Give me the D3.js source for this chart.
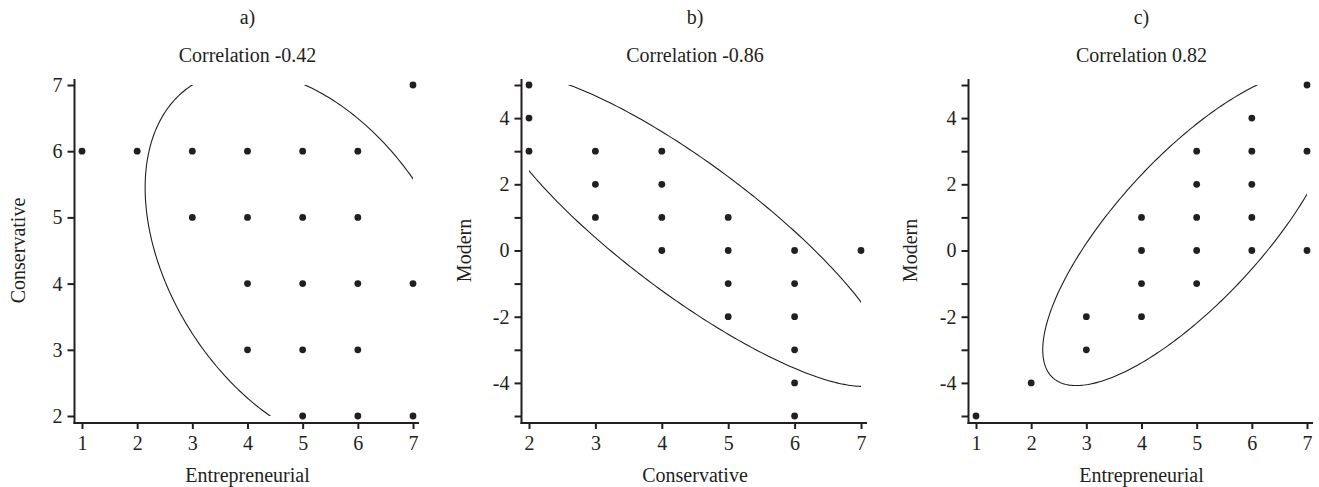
<!DOCTYPE html>
<html>
<head>
<meta charset="utf-8">
<script src="https://cdn.jsdelivr.net/npm/d3@7"></script>
<style>
  html, body { margin: 0; padding: 0; background: #fff; }
  svg { display: block; }
  text { font-family: "Liberation Serif", "Times New Roman", serif; fill: #231f20; }
</style>
</head>
<body>
<svg id="chart" width="1319" height="487"></svg>
<script>
// ---------------- DATA ----------------
const panelLetters = ["a)", "b)", "c)"];
const panelTitles  = ["Correlation -0.42", "Correlation -0.86", "Correlation 0.82"];
const xAxisTitles  = ["Entrepreneurial", "Conservative", "Entrepreneurial"];
const yAxisTitles  = ["Conservative", "Modern", "Modern"];

// panel a: Entrepreneurial (x) vs Conservative (y)
const aX = [1, 2, 3, 4, 5, 6, 7,  3, 4, 5, 6,  4, 5, 6, 7,  4, 5, 6,  5, 6, 7];
const aY = [6, 6, 6, 6, 6, 6, 7,  5, 5, 5, 5,  4, 4, 4, 4,  3, 3, 3,  2, 2, 2];
// panel b: Conservative (x) vs Modern (y)
const bX = [2, 2, 2,  3, 3, 3,  4, 4, 4, 4,  5, 5, 5, 5,  6, 6, 6, 6, 6, 6,  7];
const bY = [5, 4, 3,  3, 2, 1,  3, 2, 1, 0,  1, 0, -1, -2,  0, -1, -2, -3, -4, -5,  0];
// panel c: Entrepreneurial (x) vs Modern (y)
const cX = [1, 2, 3, 3,  4, 4, 4, 4,  5, 5, 5, 5, 5,  6, 6, 6, 6, 6,  7, 7, 7];
const cY = [-5, -4, -2, -3,  1, 0, -1, -2,  3, 2, 1, 0, -1,  4, 3, 2, 1, 0,  5, 3, 0];

// tick values / labels
const xTicksA = [1, 2, 3, 4, 5, 6, 7];
const yTicksA = [2, 3, 4, 5, 6, 7];
const yTickLabelsA = [2, 3, 4, 5, 6, 7];
const xTicksB = [2, 3, 4, 5, 6, 7];
const yTicksB = [-5, -4, -3, -2, -1, 0, 1, 2, 3, 4, 5];
const yTickLabelsB = [-4, -2, 0, 2, 4];
const xTicksC = [1, 2, 3, 4, 5, 6, 7];
const yTicksC = [-5, -4, -3, -2, -1, 0, 1, 2, 3, 4, 5];
const yTickLabelsC = [-4, -2, 0, 2, 4];

// ellipse: centre [x, y] and covariance [varX, covXY, varY] (data units)
const ellipseCentres = [[5.06, 4.34], [4.42, 0.627], [4.887, 0.66]];
const ellipseCovs    = [[8.5, -3.23, 8.27], [9.2, -12.33, 22.4], [7.167, 9.798, 22.47]];

// ---------------- LAYOUT ----------------
const panels = [
  { xs: aX, ys: aY, xt: xTicksA, yt: yTicksA, yl: yTickLabelsA,
    xRange: [82, 413], yRange: [416, 85], yTitleX: 25 },
  { xs: bX, ys: bY, xt: xTicksB, yt: yTicksB, yl: yTickLabelsB,
    xRange: [529, 861], yRange: [416, 85], yTitleX: 471 },
  { xs: cX, ys: cY, xt: xTicksC, yt: yTicksC, yl: yTickLabelsC,
    xRange: [976, 1307], yRange: [416, 85], yTitleX: 917 }
];

const ink = "#231f20";
const svg = d3.select("#chart");
const fmt = v => (v < 0 ? "-" + Math.abs(v) : String(v));

panels.forEach((p, i) => {
  const xDom = d3.extent(p.xt), yDom = d3.extent(p.yt);
  const x = d3.scaleLinear().domain(xDom).range(p.xRange);
  const y = d3.scaleLinear().domain(yDom).range(p.yRange);
  const g = svg.append("g");

  const axisX = p.xRange[0] - 7.5;       // y-axis line position
  const axisY = p.yRange[0] + 7;         // x-axis line position
  const cx = (p.xRange[0] + p.xRange[1]) / 2;

  // titles
  g.append("text").attr("x", cx).attr("y", 24).attr("text-anchor", "middle")
    .attr("font-size", 20).text(panelLetters[i]);
  g.append("text").attr("x", cx).attr("y", 62).attr("text-anchor", "middle")
    .attr("font-size", 20).text(panelTitles[i]);

  // x axis
  const xa = g.append("g").attr("transform", `translate(0,${axisY})`)
    .call(d3.axisBottom(x).tickValues(p.xt).tickSize(6).tickSizeOuter(0).tickPadding(7).tickFormat(fmt));
  xa.select(".domain").remove();
  xa.selectAll(".tick line").attr("stroke", ink).attr("stroke-width", 2);
  xa.selectAll(".tick text").attr("font-size", 20).attr("font-family", "Liberation Serif").attr("fill", ink);
  g.append("line").attr("x1", axisX - 1).attr("x2", p.xRange[1] + 6)
    .attr("y1", axisY).attr("y2", axisY).attr("stroke", ink).attr("stroke-width", 2);

  // y axis
  const ya = g.append("g").attr("transform", `translate(${axisX},0)`)
    .call(d3.axisLeft(y).tickValues(p.yt).tickSize(7).tickSizeOuter(0).tickPadding(5)
      .tickFormat(v => p.yl.includes(v) ? fmt(v) : ""));
  ya.select(".domain").remove();
  ya.selectAll(".tick line").attr("stroke", ink).attr("stroke-width", 2);
  ya.selectAll(".tick text").attr("font-size", 20).attr("font-family", "Liberation Serif").attr("fill", ink);
  g.append("line").attr("x1", axisX).attr("x2", axisX)
    .attr("y1", p.yRange[1] - 6).attr("y2", axisY + 1).attr("stroke", ink).attr("stroke-width", 2);

  // axis titles
  g.append("text").attr("x", cx).attr("y", 482).attr("text-anchor", "middle")
    .attr("font-size", 20).text(xAxisTitles[i]);
  g.append("text").attr("transform", `translate(${p.yTitleX},${(p.yRange[0] + p.yRange[1]) / 2}) rotate(-90)`)
    .attr("text-anchor", "middle").attr("font-size", 20).text(yAxisTitles[i]);

  // clip region = data range
  const clipId = "clip" + i;
  svg.append("clipPath").attr("id", clipId).append("rect")
    .attr("x", x(xDom[0])).attr("y", y(yDom[1]))
    .attr("width", x(xDom[1]) - x(xDom[0])).attr("height", y(yDom[0]) - y(yDom[1]));

  // ellipse from centre + covariance (Cholesky)
  const [mx, my] = ellipseCentres[i];
  const [vx, cxy, vy] = ellipseCovs[i];
  const l11 = Math.sqrt(vx), l21 = cxy / l11, l22 = Math.sqrt(vy - l21 * l21);
  const pts = d3.range(0, 361).map(k => {
    const t = k / 360 * 2 * Math.PI;
    const u = Math.cos(t), v = Math.sin(t);
    return [mx + l11 * u, my + l21 * u + l22 * v];
  });
  g.append("path").attr("clip-path", `url(#${clipId})`)
    .attr("d", d3.line().x(d => x(d[0])).y(d => y(d[1]))(pts))
    .attr("fill", "none").attr("stroke", ink).attr("stroke-width", 1.1);

  // points
  g.selectAll("circle.pt").data(p.xs.map((v, k) => [v, p.ys[k]])).join("circle")
    .attr("class", "pt").attr("cx", d => x(d[0])).attr("cy", d => y(d[1]))
    .attr("r", 3.4).attr("fill", ink);
});
</script>
</body>
</html>
